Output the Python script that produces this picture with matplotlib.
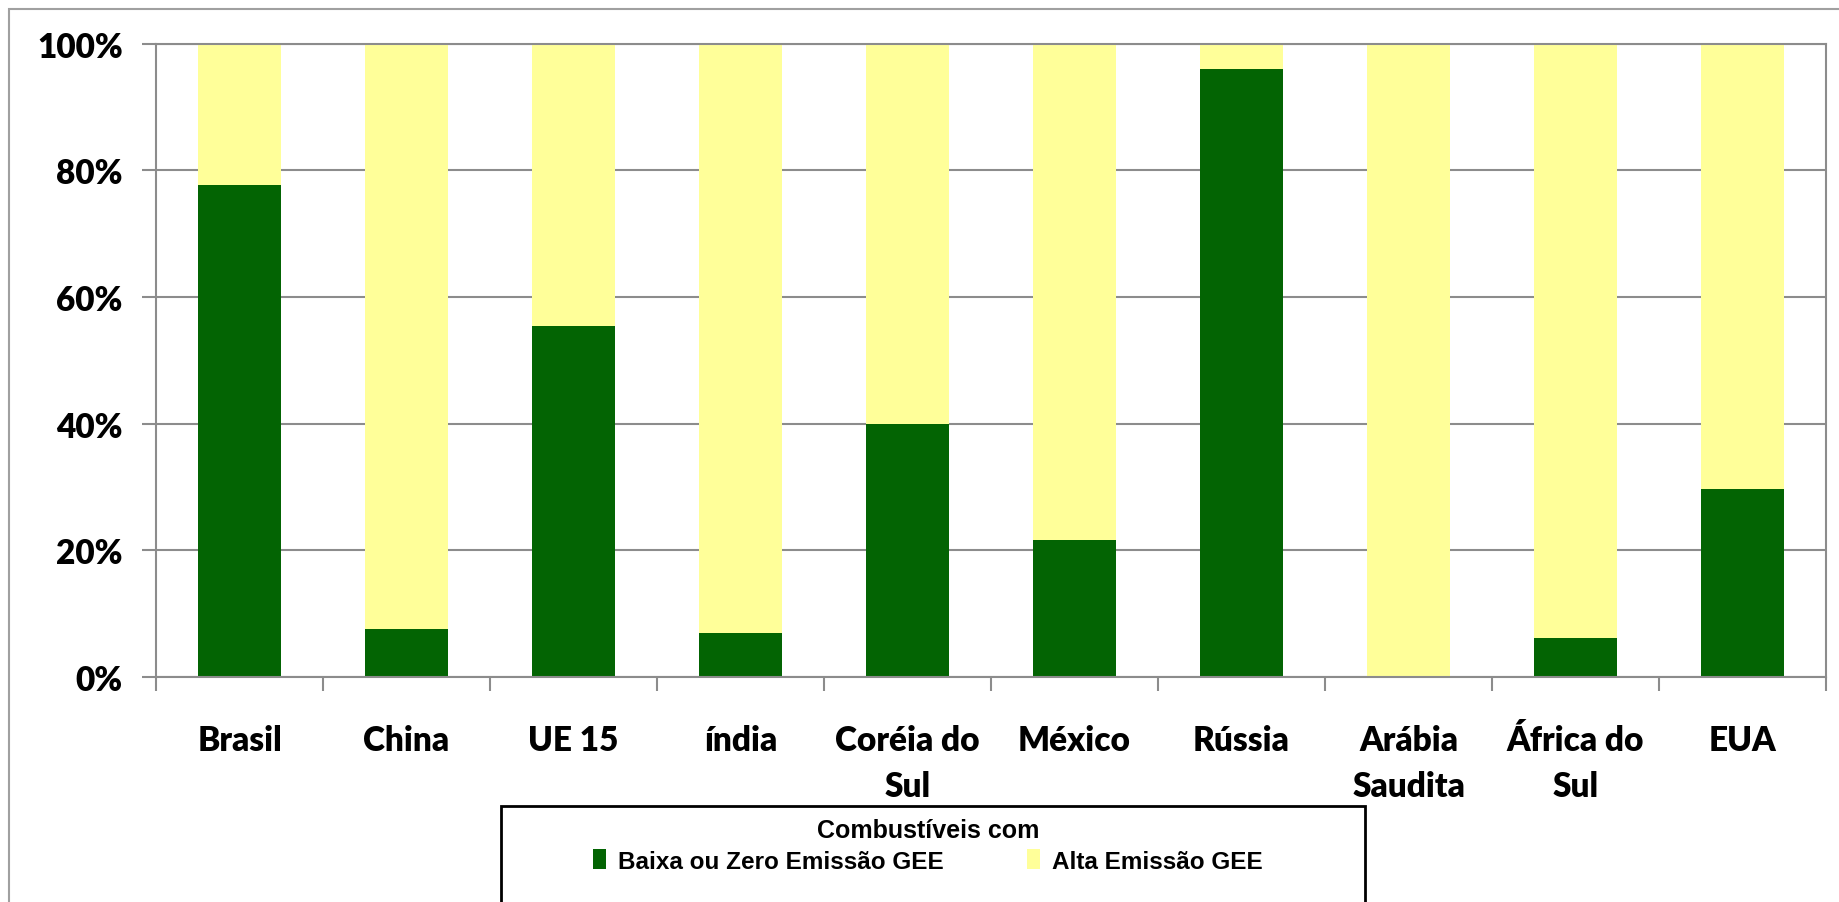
import matplotlib
matplotlib.use("Agg")
import matplotlib.pyplot as plt
from matplotlib.patches import Rectangle, Patch
from matplotlib.font_manager import FontProperties
import numpy as np

paises = ["Brasil", "China", "UE 15", "índia", "Coréia do\nSul", "México",
          "Rússia", "Arábia\nSaudita", "África do\nSul", "EUA"]
baixa = [77.6, 7.5, 55.4, 6.9, 40.0, 21.7, 96.0, 0.0, 6.2, 29.7]
alta = [100 - v for v in baixa]
yticks = [0, 20, 40, 60, 80, 100]

verde = "#036403"
amarelo = "#FFFF99"
cinza = "#8C8C8C"
fonte = "Lato"
peso = "heavy"

fig = plt.figure(figsize=(18.4, 9.03), dpi=100)
ax = fig.add_axes([0.0848, 0.2492, 0.9076, 0.7014])

x = np.arange(len(paises))
ax.bar(x, baixa, width=0.5, color=verde, zorder=2)
ax.bar(x, alta, width=0.5, bottom=baixa, color=amarelo, zorder=2)

ax.set_xlim(-0.5, len(paises) - 0.5)
ax.set_ylim(0, 100)
ax.set_yticks(yticks)
ax.set_yticklabels([f"{v}%" for v in yticks], fontsize=24, fontweight=peso, family=fonte)
ax.set_xticks(x)
ax.set_xticklabels(paises, fontsize=24, fontweight=peso, family=fonte, linespacing=1.55)
ax.set_xticks(np.arange(-0.5, len(paises)), minor=True)
ax.tick_params(axis="x", which="major", length=0, pad=34)
ax.tick_params(axis="x", which="minor", length=10, width=1.5, color=cinza, direction="out")
ax.tick_params(axis="y", length=10, width=1.5, color=cinza, pad=14)

ax.yaxis.grid(True, color=cinza, linewidth=1.5, zorder=0)
ax.set_axisbelow(True)
for s in ax.spines.values():
    s.set_color(cinza)
    s.set_linewidth(1.5)
ax.spines["left"].set_zorder(3)
ax.spines["bottom"].set_zorder(3)

# moldura externa do grafico
fig.patches.append(Rectangle((9 / 1840, -0.1), 1.2, 1 - 10 / 903 + 0.1, transform=fig.transFigure,
                             fill=False, edgecolor="#A0A0A0", linewidth=1.5))

# caixa da legenda
fig.patches.append(Rectangle((501 / 1840, -0.05), 864 / 1840, 1 - 807 / 903 + 0.05,
                             transform=fig.transFigure, fill=False, edgecolor="black", linewidth=2))

handles = [Patch(facecolor=verde, label="Baixa ou Zero Emissão GEE"),
           Patch(facecolor=amarelo, label="Alta Emissão GEE")]
fp_itens = FontProperties(family="Liberation Sans", weight="bold", size=17.5)
fp_titulo = FontProperties(family="Liberation Sans", weight="bold", size=18)
leg = fig.legend(handles=handles, ncol=2, loc="upper center", bbox_to_anchor=(928 / 1840, 1 - 802 / 903),
                 frameon=False, title="Combustíveis com", prop=fp_itens, title_fontproperties=fp_titulo,
                 handlelength=0.55, handleheight=0.9, handletextpad=0.5, columnspacing=3.4,
                 borderpad=0.2, labelspacing=0.3)

fig.savefig("out.png", dpi=100)
